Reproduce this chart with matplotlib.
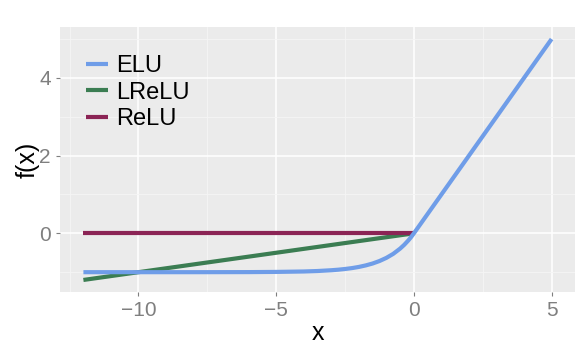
import matplotlib
matplotlib.use("Agg")
import matplotlib.pyplot as plt
from matplotlib.ticker import MultipleLocator

plt.rcParams['font.family'] = ['Liberation Sans', 'DejaVu Sans']

# values
elu_x = [-12, -10, -8, -6, -5, -4, -3.5, -3, -2.75, -2.5, -2.25, -2, -1.75, -1.5, -1.25, -1,
         -0.75, -0.5, -0.35, -0.2, -0.1, 0, 1, 2, 3, 4, 5]
elu_y = [-1.0, -1.0, -1.0, -0.998, -0.993, -0.982, -0.97, -0.95, -0.936, -0.918, -0.895, -0.865,
         -0.826, -0.777, -0.713, -0.632, -0.528, -0.393, -0.295, -0.181, -0.095, 0, 1, 2, 3, 4, 5]
lrelu_x = [-12, 0]
lrelu_y = [-1.2, 0]
relu_x = [-12, 0]
relu_y = [0, 0]

names = ['ELU', 'LReLU', 'ReLU']
colores = ['#6f9de8', '#3b7d52', '#8b2455']

fig = plt.figure(figsize=(5.88, 3.5), dpi=100)
ax = fig.add_axes([60 / 588, 1 - 292 / 350, 515 / 588, 265 / 350])
ax.set_facecolor('#ebebeb')

ax.plot(lrelu_x, lrelu_y, color=colores[1], lw=3, solid_capstyle='butt', label=names[1], zorder=3)
ax.plot(relu_x, relu_y, color=colores[2], lw=3, solid_capstyle='butt', label=names[2], zorder=3)
ax.plot(elu_x, elu_y, color=colores[0], lw=3, solid_capstyle='butt', label=names[0], zorder=4)

ax.set_xlim(-12.85, 5.85)
ax.set_ylim(-1.51, 5.31)
ax.xaxis.set_major_locator(MultipleLocator(5))
ax.yaxis.set_major_locator(MultipleLocator(2))
ax.xaxis.set_minor_locator(MultipleLocator(2.5))
ax.yaxis.set_minor_locator(MultipleLocator(1))
ax.grid(which='major', color='white', lw=1.1)
ax.grid(which='minor', color='#f5f5f5', lw=0.6)
ax.set_axisbelow(True)
for s in ax.spines.values():
    s.set_visible(False)
ax.tick_params(which='major', colors='#7f7f7f', labelsize=15, length=3, width=0.8)
ax.tick_params(which='minor', length=0)
ax.set_xticks([-10, -5, 0, 5])
ax.set_xticklabels(['\u221210', '\u22125', '0', '5'])

ax.set_xlabel('x', fontsize=18, labelpad=1)
ax.set_ylabel('f(x)', fontsize=18, labelpad=0)

h, l = ax.get_legend_handles_labels()
orden = [2, 0, 1]
leg = ax.legend([h[i] for i in orden], [l[i] for i in orden], loc='upper left',
                bbox_to_anchor=(0.033, 0.93), frameon=False, fontsize=17,
                handlelength=0.9, handletextpad=0.35, labelspacing=0.2, borderaxespad=0)

fig.savefig('out.png', dpi=100, facecolor='white')
